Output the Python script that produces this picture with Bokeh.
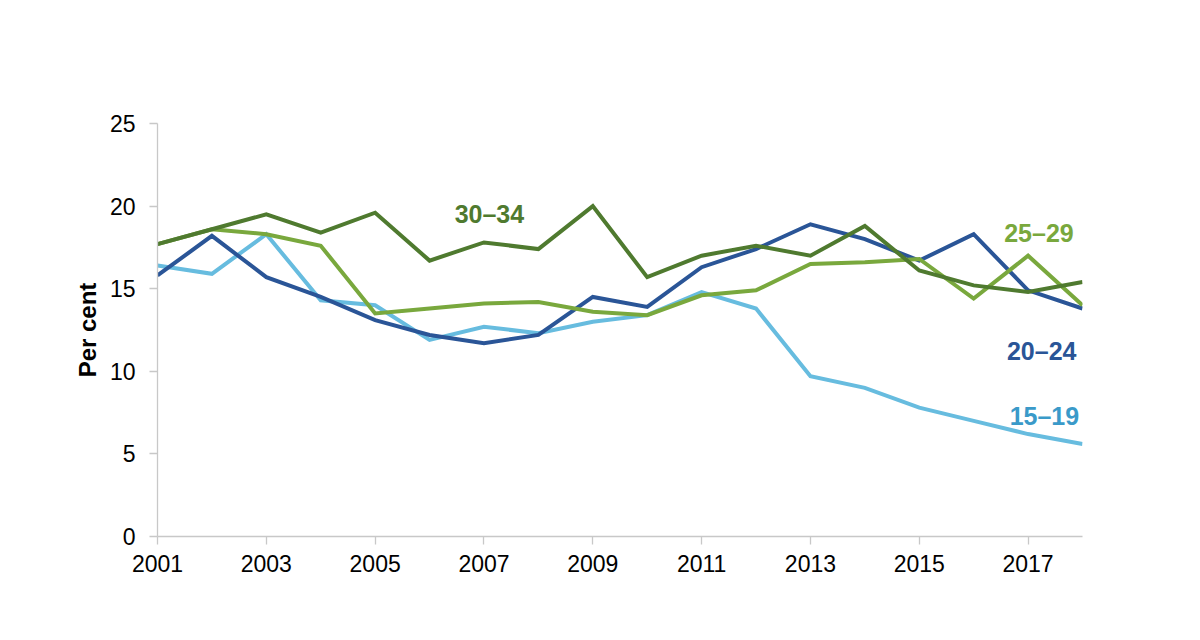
from bokeh.plotting import figure
from bokeh.models import Range1d, FixedTicker, Label
from bokeh.embed import file_html
from bokeh.resources import INLINE

years = list(range(2001, 2019))
age_15_19 = [16.4, 15.9, 18.3, 14.3, 14.0, 11.9, 12.7, 12.3, 13.0, 13.4, 14.8, 13.8, 9.7, 9.0, 7.8, 7.0, 6.2, 5.6]
age_20_24 = [15.8, 18.2, 15.7, 14.5, 13.1, 12.2, 11.7, 12.2, 14.5, 13.9, 16.3, 17.4, 18.9, 18.0, 16.7, 18.3, 14.9, 13.8]
age_25_29 = [17.7, 18.6, 18.3, 17.6, 13.5, 13.8, 14.1, 14.2, 13.6, 13.4, 14.6, 14.9, 16.5, 16.6, 16.8, 14.4, 17.0, 14.0]
age_30_34 = [17.7, 18.6, 19.5, 18.4, 19.6, 16.7, 17.8, 17.4, 20.0, 15.7, 17.0, 17.6, 17.0, 18.8, 16.1, 15.2, 14.8, 15.4]

series_names = ["15–19", "20–24", "25–29", "30–34"]
line_colors = ["#67BCDF", "#2A5597", "#79A83D", "#4F7A2F"]
label_colors = ["#3A9AC9", "#2A5597", "#79A83D", "#4F7A2F"]
label_x = [2017.3, 2017.25, 2017.2, 2007.1]
label_y = [7.3, 11.2, 18.35, 19.55]
x_ticks = list(range(2001, 2019, 2))
y_ticks = [0, 5, 10, 15, 20, 25]

p = figure(width=1184, height=624, output_backend="svg", toolbar_location=None,
           x_range=Range1d(2001, 2018), y_range=Range1d(0, 25),
           min_border_left=157, min_border_right=102, min_border_top=123, min_border_bottom=88)
p.outline_line_color = None
p.xgrid.grid_line_color = None
p.ygrid.grid_line_color = None
p.background_fill_color = "white"
p.border_fill_color = "white"

for vals, col in zip([age_15_19, age_20_24, age_25_29, age_30_34], line_colors):
    p.line(years, vals, line_color=col, line_width=4, line_join="miter")

for name, col, lx, ly in zip(series_names, label_colors, label_x, label_y):
    p.add_layout(Label(x=lx, y=ly, text=name, text_color=col, text_font="Liberation Sans",
                       text_font_style="bold", text_font_size="25px",
                       text_align="center", text_baseline="middle"))

for ax in (p.xaxis[0], p.yaxis[0]):
    ax.axis_line_color = "#C8C8C8"
    ax.axis_line_width = 1.3
    ax.major_tick_line_color = "#C8C8C8"
    ax.major_tick_line_width = 1.3
    ax.minor_tick_line_color = None
    ax.major_tick_in = 0
    ax.major_tick_out = 8
    ax.major_label_text_font = "Liberation Sans"
    ax.major_label_text_font_size = "23px"
    ax.major_label_text_color = "#000000"

p.xaxis[0].ticker = FixedTicker(ticks=x_ticks)
p.yaxis[0].ticker = FixedTicker(ticks=y_ticks)
p.xaxis[0].major_label_standoff = 10
p.yaxis[0].major_label_standoff = 14
p.yaxis[0].axis_label = "Per cent"
p.yaxis[0].axis_label_text_font = "Liberation Sans"
p.yaxis[0].axis_label_text_font_style = "bold"
p.yaxis[0].axis_label_text_font_size = "24px"
p.yaxis[0].axis_label_text_color = "#000000"
p.yaxis[0].axis_label_standoff = 6

open("out.html", "w").write(file_html(p, INLINE))
